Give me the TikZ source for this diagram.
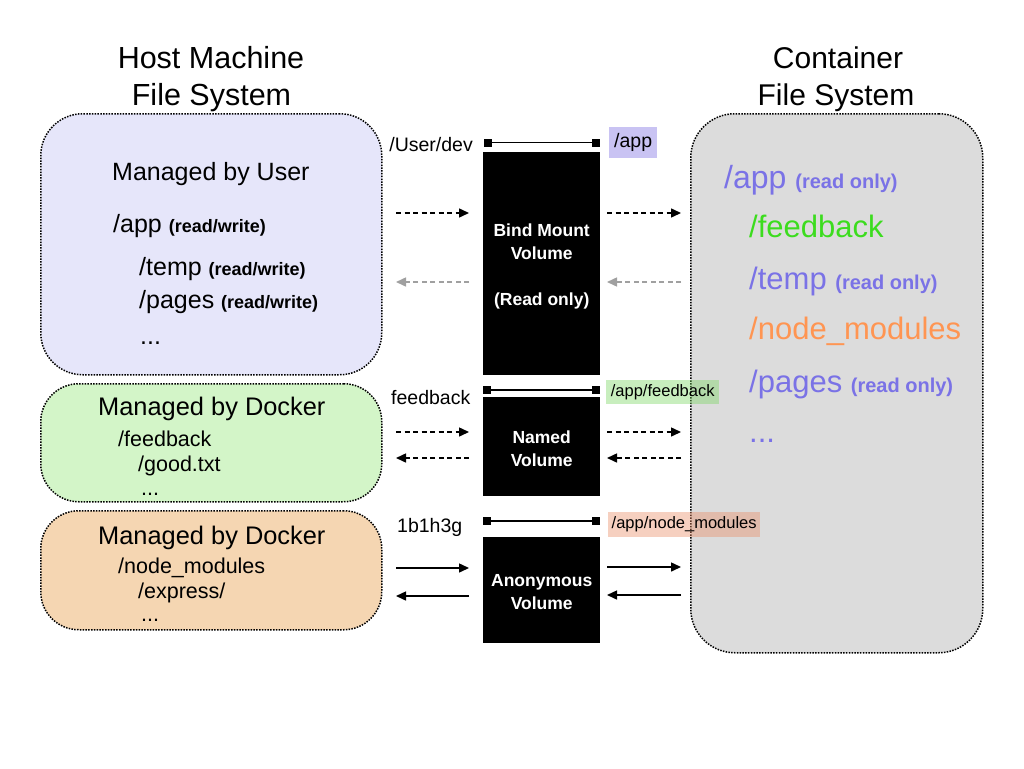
\documentclass[tikz,border=0pt]{standalone}
\usepackage{fontspec}
\setmainfont{Liberation Sans}
\usetikzlibrary{arrows.meta}
\definecolor{userfill}{HTML}{E6E6FA}
\definecolor{fbfill}{HTML}{D3F5C8}
\definecolor{nmfill}{HTML}{F5D6B2}
\definecolor{ctfill}{HTML}{DCDCDC}
\definecolor{applab}{HTML}{C9C3F3}
\definecolor{fblab}{RGB}{118,213,93}
\definecolor{nmlab}{RGB}{233,138,98}
\definecolor{ctblue}{HTML}{7A72E6}
\definecolor{ctgreen}{HTML}{3CDC1E}
\definecolor{ctorange}{HTML}{FF9552}
\definecolor{arrgray}{HTML}{A0A0A0}
\newcommand\fsz[1]{\fontsize{#1}{#1}\selectfont}
\begin{document}
\begin{tikzpicture}[x=1pt,y=-1pt,
  fsbox/.style={draw=black, line width=1.5pt, dash pattern=on 1.5pt off 1.3pt, inner sep=0pt, anchor=north west},
  volbox/.style={fill=black, inner sep=0pt, anchor=north west, minimum width=117pt},
  voltext/.style={text=white, font=\bfseries\fontsize{17.5}{23}\selectfont, align=center, inner sep=0pt},
  sq/.style={fill=black, minimum size=8pt, inner sep=0pt},
  bar/.style={line width=1.9pt},
  lab/.style={anchor=north west, inner sep=0pt},
  txt/.style={anchor=base west, inner sep=0pt},
  arr/.style={line width=1.5pt, -{Triangle[length=10pt,width=9pt]}},
  dsh/.style={dash pattern=on 5pt off 3.5pt},
  garr/.style={arr, dsh, draw=arrgray, color=arrgray}
]
\useasboundingbox[fill=white] (0,0) rectangle (1024,768);

% titles
\node[anchor=base, font=\fsz{30.5}] (h1) at (211,68) {Host Machine};
\node[anchor=base, font=\fsz{30.5}] (h2) at (211.5,105) {File System};
\node[anchor=base, font=\fsz{30}] (c1) at (838,68) {Container};
\node[anchor=base, font=\fsz{30}] (c2) at (836,105) {File System};

% host boxes
\node[fsbox, fill=userfill, minimum width=341pt, minimum height=261pt, rounded corners=42pt] (user) at (40,113) {};
\node[fsbox, fill=fbfill, minimum width=341pt, minimum height=118pt, rounded corners=38pt] (fbhost) at (40,383) {};
\node[fsbox, fill=nmfill, minimum width=341pt, minimum height=119pt, rounded corners=38pt] (nmhost) at (40,510) {};

% container box
\node[fsbox, fill=ctfill, minimum width=292pt, minimum height=539pt, rounded corners=44pt] (ct) at (690,113) {};

% user box text
\node[txt, font=\fsz{25}] (u0) at (112,180) {Managed by User};
\node[txt] (u1) at (113,232) {{\fsz{25}/app }{\bfseries\fsz{18}(read/write)}};
\node[txt] (u2) at (139,275) {{\fsz{25}/temp }{\bfseries\fsz{18}(read/write)}};
\node[txt] (u3) at (139,308) {{\fsz{25}/pages }{\bfseries\fsz{18}(read/write)}};
\node[txt, font=\fsz{25}] (u4) at (140,344) {...};

% feedback host text
\node[txt, font=\fsz{25.4}] (f0) at (98,415) {Managed by Docker};
\node[txt, font=\fsz{21.5}] (f1) at (118,446) {/feedback};
\node[txt, font=\fsz{21.5}] (f2) at (138,471) {/good.txt};
\node[txt, font=\fsz{21.5}] (f3) at (141,495) {...};

% node_modules host text
\node[txt, font=\fsz{25.4}] (n0) at (98,544) {Managed by Docker};
\node[txt, font=\fsz{21.5}] (n1) at (118,573) {/node\_modules};
\node[txt, font=\fsz{21.5}] (n2) at (138,598) {/express/};
\node[txt, font=\fsz{21.5}] (n3) at (141,621) {...};

% container text
\node[txt, text=ctblue] (k0) at (724,188) {{\fsz{32}/app }{\bfseries\fsz{20}(read only)}};
\node[txt, text=ctgreen, font=\fsz{31}] (k1) at (749,237) {/feedback};
\node[txt, text=ctblue] (k2) at (749,289) {{\fsz{31}/temp }{\bfseries\fsz{20}(read only)}};
\node[txt, text=ctorange, font=\fsz{31}] (k3) at (749,339) {/node\_modules};
\node[txt, text=ctblue] (k4) at (749,392) {{\fsz{31}/pages }{\bfseries\fsz{20}(read only)}};
\node[txt, text=ctblue, font=\fsz{31}] (k5) at (749,442) {...};

% volumes
\node[volbox, minimum height=223pt] (bind) at (483,152) {};
\node[volbox, minimum height=99pt] (named) at (483,397) {};
\node[volbox, minimum height=106pt] (anon) at (483,537) {};
\node[voltext] (bindt) at ([yshift=-3pt]bind.center) {Bind Mount\\Volume\\[23pt](Read only)};
\node[voltext] (namedt) at ([yshift=-2.5pt]named.center) {Named\\Volume};
\node[voltext] (anont) at ([yshift=-2pt]anon.center) {Anonymous\\Volume};

% bars
\node[sq] (b1l) at (487.5,142.5) {};
\node[sq] (b1r) at (596,142.5) {};
\draw[bar] (b1l) -- (b1r);
\node[sq] (b2l) at (487,390) {};
\node[sq] (b2r) at (596,390) {};
\draw[bar] (b2l) -- (b2r);
\node[sq] (b3l) at (487,521) {};
\node[sq] (b3r) at (596,521) {};
\draw[bar] (b3l) -- (b3r);

% source labels
\node[anchor=base east, inner sep=0pt, font=\fsz{19.5}] (sud) at (473,151) {/User/dev};
\node[txt, font=\fsz{19.5}] (sfb) at (391,404) {feedback};
\node[txt, font=\fsz{19.5}] (snm) at (397,532) {1b1h3g};

% target labels
\node[lab, fill=applab, minimum width=48pt, minimum height=31pt, font=\fsz{19.5}] (tapp) at (609,127) {/app};
\node[lab, fill=fblab, fill opacity=0.4, text opacity=1, minimum width=113pt, minimum height=24pt, font=\fsz{16.5}] (tfb) at (606,380) {/app/feedback};
\node[lab, fill=nmlab, fill opacity=0.4, text opacity=1, minimum width=152pt, minimum height=25pt, font=\fsz{16.5}] (tnm) at (608,512) {/app/node\_modules};

% arrows: bind mount
\coordinate (a1s) at (396,213); \coordinate (a1e) at (469,213);
\coordinate (a2s) at (607,213); \coordinate (a2e) at (681,213);
\coordinate (a3s) at (469,282); \coordinate (a3e) at (396,282);
\coordinate (a4s) at (681,282); \coordinate (a4e) at (607,282);
\draw[arr, dsh] (a1s) -- (a1e);
\draw[arr, dsh] (a2s) -- (a2e);
\draw[garr] (a3s) -- (a3e);
\draw[garr] (a4s) -- (a4e);

% arrows: named
\coordinate (b1s) at (396,432); \coordinate (b1e) at (469,432);
\coordinate (b2s) at (607,432); \coordinate (b2e) at (681,432);
\coordinate (b3s) at (469,458); \coordinate (b3e) at (396,458);
\coordinate (b4s) at (681,458); \coordinate (b4e) at (607,458);
\draw[arr, dsh] (b1s) -- (b1e);
\draw[arr, dsh] (b2s) -- (b2e);
\draw[arr, dsh] (b3s) -- (b3e);
\draw[arr, dsh] (b4s) -- (b4e);

% arrows: anonymous
\coordinate (c1s) at (396,568); \coordinate (c1e) at (469,568);
\coordinate (c2s) at (607,567); \coordinate (c2e) at (681,567);
\coordinate (c3s) at (469,596); \coordinate (c3e) at (396,596);
\coordinate (c4s) at (681,595); \coordinate (c4e) at (607,595);
\draw[arr] (c1s) -- (c1e);
\draw[arr] (c2s) -- (c2e);
\draw[arr] (c3s) -- (c3e);
\draw[arr] (c4s) -- (c4e);
\end{tikzpicture}
\end{document}
